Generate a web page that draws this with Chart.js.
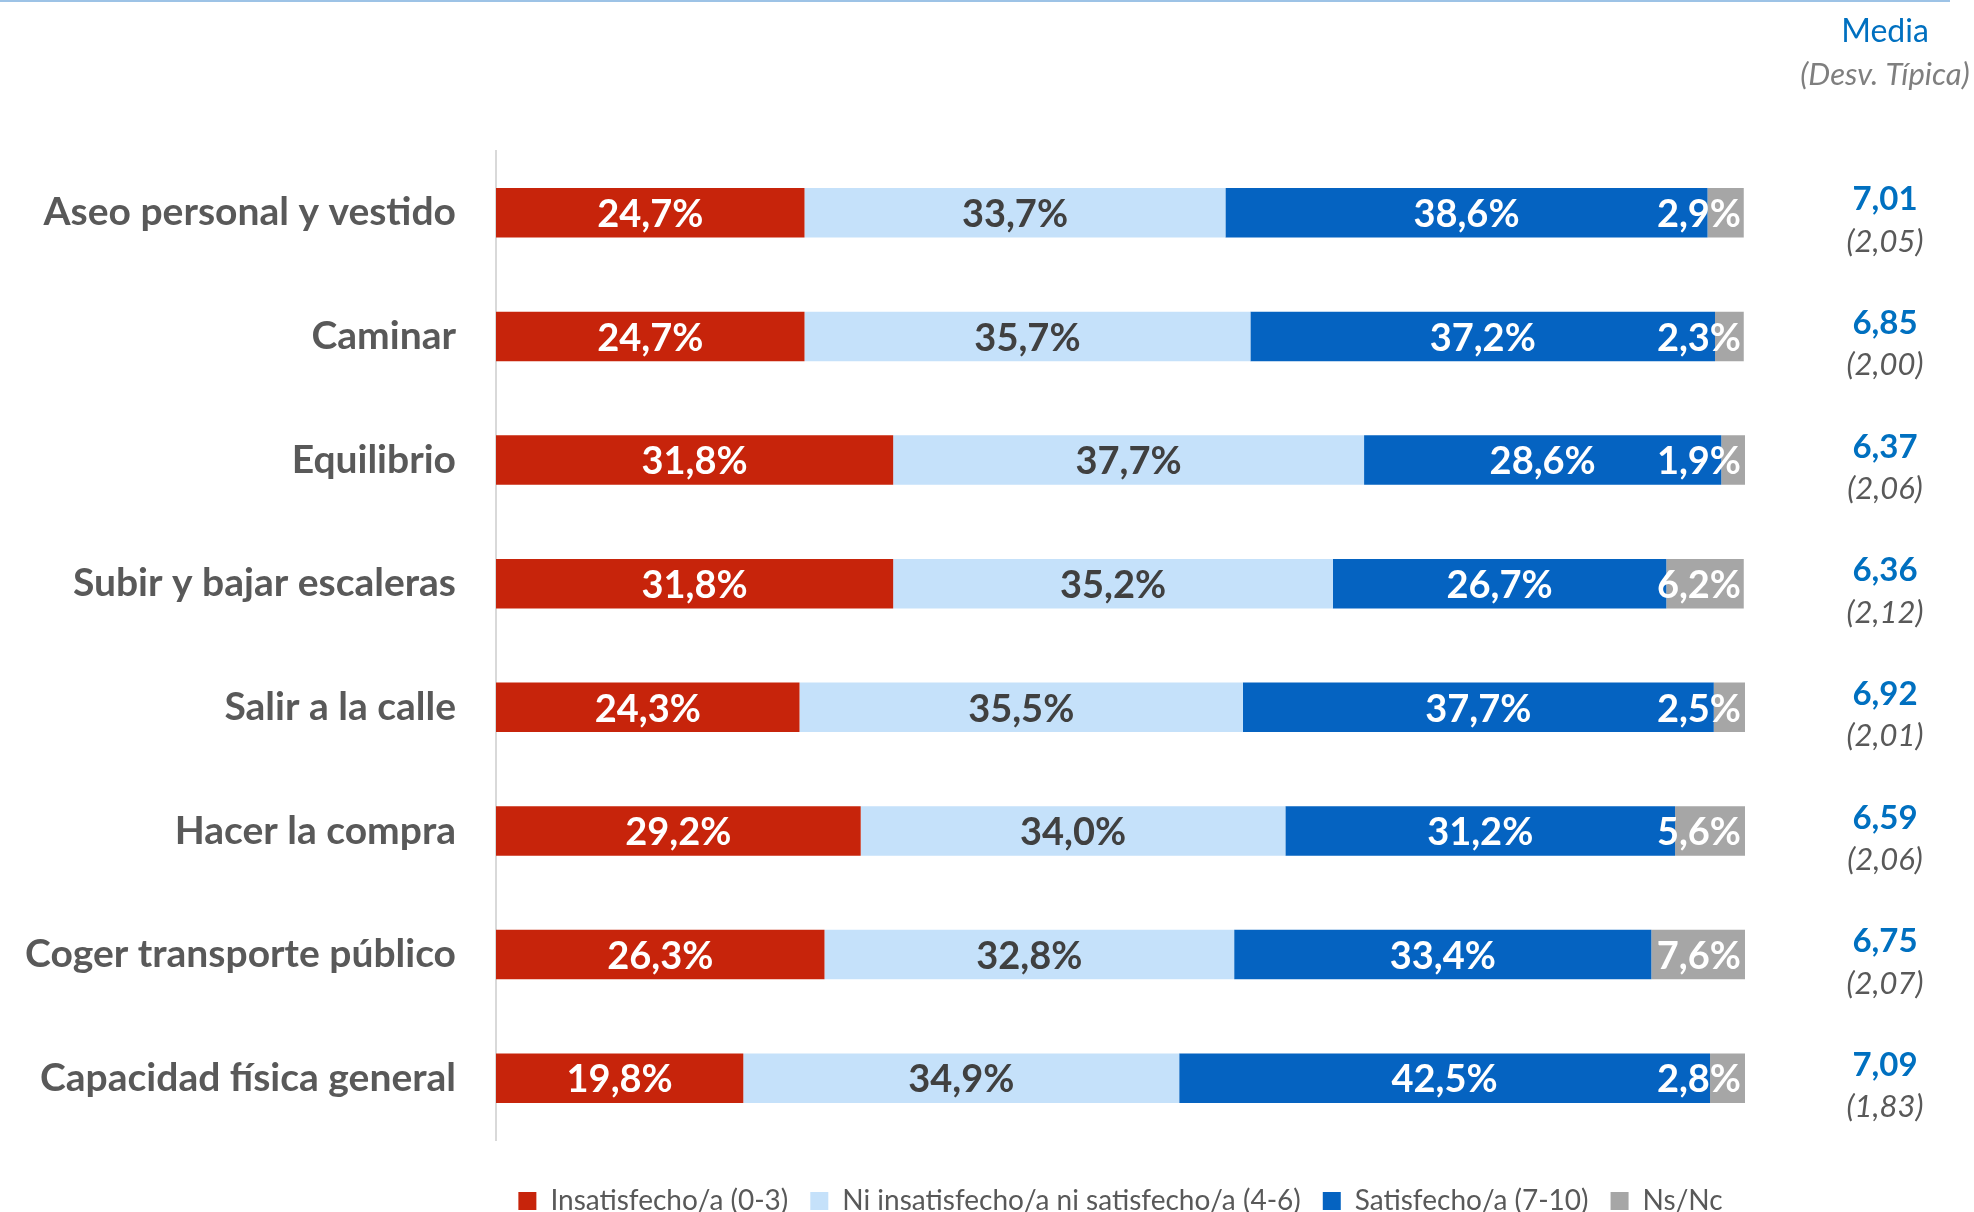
<!DOCTYPE html>
<html>
<head>
<meta charset="utf-8">
<script src="https://cdn.jsdelivr.net/npm/chart.js@4.4.1/dist/chart.umd.min.js"></script>
<style>
    body { margin: 0; background: #ffffff; }
    canvas { display: block; }
</style>
</head>
<body>
<canvas id="chart" width="1974" height="1212"></canvas>
<script>
// Chart data
const categories = [
    'Aseo personal y vestido',
    'Caminar',
    'Equilibrio',
    'Subir y bajar escaleras',
    'Salir a la calle',
    'Hacer la compra',
    'Coger transporte público',
    'Capacidad física general'
];
const seriesNames = [
    'Insatisfecho/a (0-3)',
    'Ni insatisfecho/a ni satisfecho/a (4-6)',
    'Satisfecho/a (7-10)',
    'Ns/Nc'
];
const insatisfecho = [24.7, 24.7, 31.8, 31.8, 24.3, 29.2, 26.3, 19.8];
const neutral = [33.7, 35.7, 37.7, 35.2, 35.5, 34.0, 32.8, 34.9];
const satisfecho = [38.6, 37.2, 28.6, 26.7, 37.7, 31.2, 33.4, 42.5];
const nsnc = [2.9, 2.3, 1.9, 6.2, 2.5, 5.6, 7.6, 2.8];
const medias = [7.01, 6.85, 6.37, 6.36, 6.92, 6.59, 6.75, 7.09];
const desviaciones = [2.05, 2.00, 2.06, 2.12, 2.01, 2.06, 2.07, 1.83];

const barColors = ['#C7240B', '#C5E1FA', '#0563C1', '#A6A6A6'];
const labelColors = ['#ffffff', '#404040', '#ffffff', '#ffffff'];
const FONT = 'Lato, "Noto Sans", sans-serif';

function fmt(v, d) {
    return v.toFixed(d).replace('.', ',');
}

// Percent labels inside the bars
const barLabels = {
    id: 'barLabels',
    afterDatasetsDraw(chart) {
        const ctx = chart.ctx;
        const area = chart.chartArea;
        ctx.save();
        ctx.font = 'bold 38px ' + FONT;
        ctx.textAlign = 'center';
        ctx.textBaseline = 'middle';
        chart.data.datasets.forEach((ds, di) => {
            const meta = chart.getDatasetMeta(di);
            meta.data.forEach((bar, i) => {
                const txt = fmt(ds.data[i], 1) + '%';
                const w = ctx.measureText(txt).width;
                let x = (bar.x + bar.base) / 2;
                if (x + w / 2 > area.right - 4) x = area.right - 4 - w / 2;
                ctx.fillStyle = labelColors[di];
                ctx.fillText(txt, x, bar.y + 2);
            });
        });
        ctx.restore();
    }
};

// Media / desviación column on the right + top rule
const sideColumn = {
    id: 'sideColumn',
    afterDraw(chart) {
        const ctx = chart.ctx;
        const yScale = chart.scales.y;
        const cx = 1885;
        ctx.save();
        ctx.strokeStyle = '#9DC3E6';
        ctx.lineWidth = 2;
        ctx.beginPath();
        ctx.moveTo(0, 1);
        ctx.lineTo(1950, 1);
        ctx.stroke();

        ctx.textAlign = 'center';
        ctx.textBaseline = 'middle';
        ctx.fillStyle = '#0070C0';
        ctx.font = '32px ' + FONT;
        ctx.fillText('Media', cx, 32);
        ctx.fillStyle = '#7F7F7F';
        ctx.font = 'italic 31px ' + FONT;
        ctx.fillText('(Desv. Típica)', cx, 75);

        medias.forEach((m, i) => {
            const yc = yScale.getPixelForValue(i);
            ctx.fillStyle = '#0070C0';
            ctx.font = 'bold 33px ' + FONT;
            ctx.fillText(fmt(m, 2), cx, yc - 13);
            ctx.fillStyle = '#595959';
            ctx.font = 'italic 31px ' + FONT;
            ctx.fillText('(' + fmt(desviaciones[i], 2) + ')', cx, yc + 29);
        });
        ctx.restore();
    }
};

const ctx = document.getElementById('chart').getContext('2d');
new Chart(ctx, {
    type: 'bar',
    data: {
        labels: categories,
        datasets: [insatisfecho, neutral, satisfecho, nsnc].map((d, i) => ({
            label: seriesNames[i],
            data: d,
            backgroundColor: barColors[i],
            borderWidth: 0,
            categoryPercentage: 1,
            barPercentage: 0.4
        }))
    },
    options: {
        indexAxis: 'y',
        responsive: false,
        devicePixelRatio: 1,
        animation: false,
        layout: {
            padding: { top: 151, right: 229, bottom: -13, left: 0 }
        },
        scales: {
            x: {
                stacked: true,
                min: 0,
                max: 100,
                grid: { display: false },
                border: { display: false },
                ticks: { display: false },
                afterFit(scale) { scale.height = 25; }
            },
            y: {
                stacked: true,
                grid: { display: false },
                border: { display: true, color: '#D9D9D9', width: 2 },
                ticks: {
                    color: '#595959',
                    padding: 32,
                    font: { family: FONT, weight: 'bold', size: 39 }
                },
                afterFit(scale) { scale.width = 496; }
            }
        },
        plugins: {
            legend: {
                position: 'bottom',
                fullSize: false,
                labels: {
                    boxWidth: 18,
                    boxHeight: 18,
                    padding: 22,
                    color: '#595959',
                    font: { family: FONT, size: 28 }
                }
            },
            tooltip: { enabled: false }
        }
    },
    plugins: [barLabels, sideColumn]
});
</script>
</body>
</html>
